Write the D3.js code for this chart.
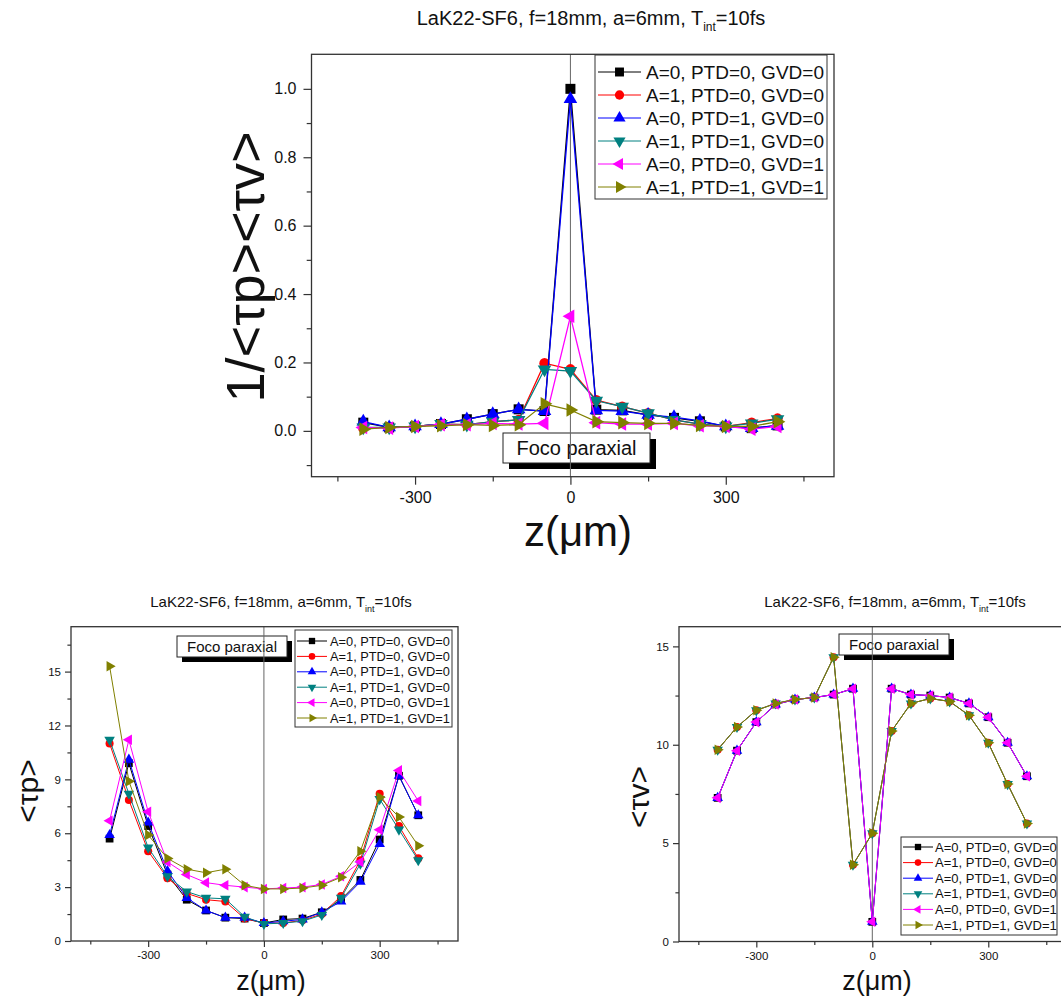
<!DOCTYPE html>
<html>
<head>
<meta charset="utf-8">
<script src="https://cdn.jsdelivr.net/npm/d3@7"></script>
<style>
  html, body { margin: 0; padding: 0; background: #ffffff; }
  svg { display: block; font-family: "Liberation Sans", Arial, Helvetica, sans-serif; }
</style>
</head>
<body>
<svg id="chart" width="1061" height="996"></svg>
<script>
// ---------------- DATA ----------------
const zValues = [-400, -350, -300, -250, -200, -150, -100, -50, 0, 50, 100, 150, 200, 250, 300, 350, 400];

const seriesNames = [
  "A=0, PTD=0, GVD=0",
  "A=1, PTD=0, GVD=0",
  "A=0, PTD=1, GVD=0",
  "A=1, PTD=1, GVD=0",
  "A=0, PTD=0, GVD=1",
  "A=1, PTD=1, GVD=1"
];

// Top panel: 1/(<tau_p><tau_v>)
const invProd_A0_PTD0_GVD0 = [0.024, 0.010, 0.013, 0.020, 0.034, 0.049, 0.063, 0.058, 1.000, 0.062, 0.060, 0.047, 0.038, 0.028, 0.013, 0.008, 0.016];
const invProd_A1_PTD0_GVD0 = [0.008, 0.010, 0.013, 0.020, 0.018, 0.027, 0.032, 0.198, 0.180, 0.090, 0.071, 0.052, 0.032, 0.020, 0.013, 0.024, 0.036];
const invProd_A0_PTD1_GVD0 = [0.027, 0.010, 0.013, 0.020, 0.034, 0.049, 0.063, 0.058, 0.970, 0.060, 0.058, 0.047, 0.040, 0.029, 0.013, 0.008, 0.015];
const invProd_A1_PTD1_GVD0 = [0.010, 0.010, 0.013, 0.020, 0.018, 0.027, 0.032, 0.180, 0.175, 0.088, 0.071, 0.052, 0.032, 0.020, 0.013, 0.022, 0.034];
const invProd_A0_PTD0_GVD1 = [0.010, 0.008, 0.013, 0.018, 0.018, 0.022, 0.020, 0.022, 0.335, 0.024, 0.020, 0.020, 0.022, 0.015, 0.013, 0.005, 0.013];
const invProd_A1_PTD1_GVD1 = [0.005, 0.010, 0.013, 0.015, 0.018, 0.016, 0.018, 0.079, 0.061, 0.027, 0.024, 0.022, 0.022, 0.016, 0.013, 0.013, 0.027];

// Bottom-left panel: <tau_p>
const tauP_A0_PTD0_GVD0 = [5.7, 9.9, 6.4, 3.7, 2.3, 1.7, 1.3, 1.25, 1.0, 1.2, 1.25, 1.6, 2.3, 3.4, 5.65, 9.2, 7.0];
const tauP_A1_PTD0_GVD0 = [11.0, 7.85, 5.0, 3.5, 2.65, 2.3, 2.2, 1.25, 1.0, 1.0, 1.15, 1.5, 2.5, 4.5, 8.2, 6.4, 4.6];
const tauP_A0_PTD1_GVD0 = [5.9, 10.1, 6.6, 3.9, 2.4, 1.7, 1.3, 1.3, 1.0, 1.1, 1.2, 1.6, 2.2, 3.3, 5.4, 9.2, 7.0];
const tauP_A1_PTD1_GVD0 = [11.2, 8.2, 5.2, 3.6, 2.75, 2.4, 2.35, 1.35, 0.95, 1.0, 1.1, 1.45, 2.4, 4.3, 7.9, 6.2, 4.5];
const tauP_A0_PTD0_GVD1 = [6.7, 11.2, 7.2, 4.4, 3.7, 3.25, 3.1, 3.0, 2.9, 2.95, 3.0, 3.15, 3.6, 4.4, 6.2, 9.5, 7.8];
const tauP_A1_PTD1_GVD1 = [15.3, 8.9, 5.9, 4.6, 4.0, 3.8, 4.0, 3.1, 2.9, 2.9, 2.95, 3.1, 3.55, 5.0, 8.0, 6.9, 5.3];

// Bottom-right panel: <tau_v>
const tauV_A0_PTD0_GVD0 = [7.3, 9.7, 11.15, 12.05, 12.3, 12.4, 12.55, 12.85, 1.0, 12.85, 12.55, 12.5, 12.4, 12.1, 11.4, 10.1, 8.4];
const tauV_A1_PTD0_GVD0 = [9.75, 10.9, 11.75, 12.1, 12.3, 12.4, 14.45, 3.9, 5.5, 10.7, 12.1, 12.35, 12.2, 11.5, 10.1, 8.0, 6.0];
const tauV_A0_PTD1_GVD0 = [7.3, 9.7, 11.15, 12.05, 12.3, 12.4, 12.55, 12.85, 1.0, 12.85, 12.55, 12.5, 12.4, 12.1, 11.4, 10.1, 8.4];
const tauV_A1_PTD1_GVD0 = [9.75, 10.9, 11.75, 12.1, 12.3, 12.4, 14.45, 3.9, 5.5, 10.7, 12.1, 12.35, 12.2, 11.5, 10.1, 8.0, 6.0];
const tauV_A0_PTD0_GVD1 = [7.3, 9.7, 11.15, 12.05, 12.3, 12.4, 12.55, 12.85, 1.0, 12.85, 12.55, 12.5, 12.4, 12.1, 11.4, 10.1, 8.4];
const tauV_A1_PTD1_GVD1 = [9.75, 10.9, 11.75, 12.1, 12.3, 12.4, 14.45, 3.9, 5.5, 10.7, 12.1, 12.35, 12.2, 11.5, 10.1, 8.0, 6.0];

// Tick values / labels
const xMajorTicks = [-300, 0, 300];
const xMinorTicks = [-450, -150, 150, 450];
const yTicksTop = [0.0, 0.2, 0.4, 0.6, 0.8, 1.0];
const yMinorTop = [-0.1, 0.1, 0.3, 0.5, 0.7, 0.9];
const yTicksTauP = [0, 3, 6, 9, 12, 15];
const yMinorTauP = [1.5, 4.5, 7.5, 10.5, 13.5, 16.5];
const yTicksTauV = [0, 5, 10, 15];
const yMinorTauV = [2.5, 7.5, 12.5];

const titleMain = "LaK22-SF6, f=18mm, a=6mm, T";
const titleSub = "int";
const titleEnd = "=10fs";
const focoText = "Foco paraxial";
const xLabelText = "z(\u03BCm)";

// ---------------- STYLE ----------------
const colors = ["#000000", "#ff0000", "#0000ff", "#008080", "#ff00ff", "#808000"];
const symbolTypes = [d3.symbolSquare, d3.symbolCircle, d3.symbolTriangle, d3.symbolTriangle, d3.symbolTriangle, d3.symbolTriangle];
const symbolRot = [0, 0, 0, 180, -90, 90];
const hyphenFmt = (f) => (d) => f(d).replace("\u2212", "-");

const svg = d3.select("#chart");

function drawPanel(cfg) {
  const g = svg.append("g");
  const x = d3.scaleLinear().domain(cfg.xDomain).range([cfg.left, cfg.right]);
  const y = d3.scaleLinear().domain(cfg.yDomain).range([cfg.bottom, cfg.top]);

  // Foco paraxial box (under zero line)
  const fb = cfg.foco;
  g.append("rect").attr("x", fb.x + fb.sh).attr("y", fb.y + fb.sh).attr("width", fb.w).attr("height", fb.h).attr("fill", "#000");
  g.append("rect").attr("x", fb.x).attr("y", fb.y).attr("width", fb.w).attr("height", fb.h)
    .attr("fill", "#fff").attr("stroke", "#222").attr("stroke-width", 1);
  g.append("text").attr("x", fb.x + fb.w / 2).attr("y", fb.y + fb.h / 2).attr("dy", "0.36em")
    .attr("text-anchor", "middle").attr("font-size", fb.fs).attr("fill", "#111").text(focoText);

  // zero line
  g.append("line").attr("x1", x(0)).attr("x2", x(0)).attr("y1", cfg.top).attr("y2", cfg.bottom)
    .attr("stroke", "#666").attr("stroke-width", 1);

  // series
  const line = d3.line().x((d, i) => x(zValues[i])).y(d => y(d));
  cfg.series.forEach((vals, si) => {
    g.append("path").datum(vals).attr("d", line).attr("fill", "none")
      .attr("stroke", colors[si]).attr("stroke-width", cfg.lw);
    const sym = d3.symbol().type(symbolTypes[si]).size(si === 1 ? cfg.ms * 0.85 : (si >= 2 ? cfg.ms * 0.8 : cfg.ms));
    g.selectAll(null).data(vals).enter().append("path")
      .attr("d", sym)
      .attr("transform", (d, i) => `translate(${x(zValues[i])},${y(d)}) rotate(${symbolRot[si]})`)
      .attr("fill", colors[si]);
  });

  // frame
  g.append("rect").attr("x", cfg.left).attr("y", cfg.top).attr("width", cfg.right - cfg.left).attr("height", cfg.bottom - cfg.top)
    .attr("fill", "none").attr("stroke", "#333").attr("stroke-width", 1.3);

  // axes
  const ax = g.append("g").attr("transform", `translate(0,${cfg.bottom})`)
    .call(d3.axisBottom(x).tickValues(xMajorTicks).tickSize(cfg.tl).tickPadding(cfg.tp).tickFormat(hyphenFmt(d3.format("d"))));
  const axm = g.append("g").attr("transform", `translate(0,${cfg.bottom})`)
    .call(d3.axisBottom(x).tickValues(xMinorTicks).tickSize(cfg.tl * 0.6).tickFormat(""));
  const ay = g.append("g").attr("transform", `translate(${cfg.left},0)`)
    .call(d3.axisLeft(y).tickValues(cfg.yTicks).tickSize(cfg.tl).tickPadding(cfg.tp).tickFormat(hyphenFmt(cfg.yFmt)));
  const aym = g.append("g").attr("transform", `translate(${cfg.left},0)`)
    .call(d3.axisLeft(y).tickValues(cfg.yMinor).tickSize(cfg.tl * 0.6).tickFormat(""));
  [ax, axm, ay, aym].forEach(a => {
    a.select(".domain").remove();
    a.selectAll("line").attr("stroke", "#333").attr("stroke-width", 1.2);
    a.selectAll("text").attr("font-size", cfg.tfs).attr("fill", "#111")
      .attr("font-family", '"Liberation Sans", Arial, sans-serif');
  });

  // legend
  const lg = cfg.legend;
  g.append("rect").attr("x", lg.x).attr("y", lg.y).attr("width", lg.w).attr("height", lg.h)
    .attr("fill", "#fff").attr("stroke", "#333").attr("stroke-width", 1);
  seriesNames.forEach((name, si) => {
    const cy = lg.y + lg.first + si * lg.step;
    g.append("line").attr("x1", lg.x + lg.l1).attr("x2", lg.x + lg.l2).attr("y1", cy).attr("y2", cy)
      .attr("stroke", colors[si]).attr("stroke-width", 1);
    const sym = d3.symbol().type(symbolTypes[si]).size(si === 1 ? lg.ms * 0.85 : (si >= 2 ? lg.ms * 0.8 : lg.ms));
    g.append("path").attr("d", sym)
      .attr("transform", `translate(${lg.x + (lg.l1 + lg.l2) / 2},${cy}) rotate(${symbolRot[si]})`)
      .attr("fill", colors[si]);
    g.append("text").attr("x", lg.x + lg.tx).attr("y", cy).attr("dy", "0.36em")
      .attr("font-size", lg.fs).attr("fill", "#111").text(name);
  });

  // title
  const t = g.append("text").attr("x", cfg.title.x).attr("y", cfg.title.y).attr("text-anchor", "middle")
    .attr("font-size", cfg.title.fs).attr("fill", "#111");
  t.append("tspan").text(titleMain);
  t.append("tspan").attr("font-size", cfg.title.fs * 0.6).attr("dy", cfg.title.fs * 0.3).text(titleSub);
  t.append("tspan").attr("dy", -cfg.title.fs * 0.3).text(titleEnd);

  // axis labels
  g.append("text").attr("x", cfg.xl.x).attr("y", cfg.xl.y).attr("text-anchor", "middle")
    .attr("font-size", cfg.xl.fs).attr("fill", "#111").text(xLabelText);
  g.append("text").attr("transform", `translate(${cfg.yl.x},${cfg.yl.y}) rotate(-90)`)
    .attr("text-anchor", "middle").attr("dy", "0.36em")
    .attr("font-size", cfg.yl.fs).attr("fill", "#111").text(cfg.yl.text);
}

// Top panel
drawPanel({
  left: 311.5, right: 834, top: 54.3, bottom: 476.7,
  xDomain: [-500, 509], yDomain: [-0.134, 1.101],
  series: [invProd_A0_PTD0_GVD0, invProd_A1_PTD0_GVD0, invProd_A0_PTD1_GVD0, invProd_A1_PTD1_GVD0, invProd_A0_PTD0_GVD1, invProd_A1_PTD1_GVD1],
  yTicks: yTicksTop, yMinor: yMinorTop, yFmt: d3.format(".1f"),
  lw: 1.3, ms: 100, tl: 8, tp: 7, tfs: 16,
  foco: { x: 503, y: 433, w: 147, h: 30, sh: 6, fs: 20 },
  legend: { x: 595, y: 55, w: 232, h: 144, first: 17, step: 23, l1: 3, l2: 46, tx: 51, fs: 19, ms: 80 },
  title: { x: 591, y: 25, fs: 20 },
  xl: { x: 578, y: 546, fs: 42 },
  yl: { x: 245, y: 267, fs: 54, text: "1/<\u03C4p><\u03C4v>" }
});

// Bottom-left panel
drawPanel({
  left: 71, right: 458, top: 626.7, bottom: 941,
  xDomain: [-500, 503], yDomain: [0, 17.5],
  series: [tauP_A0_PTD0_GVD0, tauP_A1_PTD0_GVD0, tauP_A0_PTD1_GVD0, tauP_A1_PTD1_GVD0, tauP_A0_PTD0_GVD1, tauP_A1_PTD1_GVD1],
  yTicks: yTicksTauP, yMinor: yMinorTauP, yFmt: d3.format("d"),
  lw: 1, ms: 60, tl: 6, tp: 4, tfs: 11.5,
  foco: { x: 177, y: 636, w: 110, h: 21, sh: 5, fs: 15 },
  legend: { x: 295, y: 630, w: 157, h: 97, first: 11, step: 15.4, l1: 2, l2: 32, tx: 35, fs: 12.8, ms: 40 },
  title: { x: 281, y: 607, fs: 15 },
  xl: { x: 271, y: 990, fs: 27 },
  yl: { x: 27, y: 791, fs: 30, text: "<\u03C4p>" }
});

// Bottom-right panel
drawPanel({
  left: 679, right: 1065.6, top: 626.7, bottom: 941.5,
  xDomain: [-500, 500], yDomain: [0, 16],
  series: [tauV_A0_PTD0_GVD0, tauV_A1_PTD0_GVD0, tauV_A0_PTD1_GVD0, tauV_A1_PTD1_GVD0, tauV_A0_PTD0_GVD1, tauV_A1_PTD1_GVD1],
  yTicks: yTicksTauV, yMinor: yMinorTauV, yFmt: d3.format("d"),
  lw: 1, ms: 60, tl: 6, tp: 4, tfs: 11.5,
  foco: { x: 839, y: 634, w: 110, h: 21, sh: 5, fs: 15 },
  legend: { x: 901, y: 837, w: 156, h: 98, first: 10, step: 15.6, l1: 2, l2: 32, tx: 34, fs: 13, ms: 40 },
  title: { x: 895, y: 607, fs: 15 },
  xl: { x: 877, y: 990, fs: 27 },
  yl: { x: 638, y: 797, fs: 30, text: "<\u03C4v>" }
});
</script>
</body>
</html>
